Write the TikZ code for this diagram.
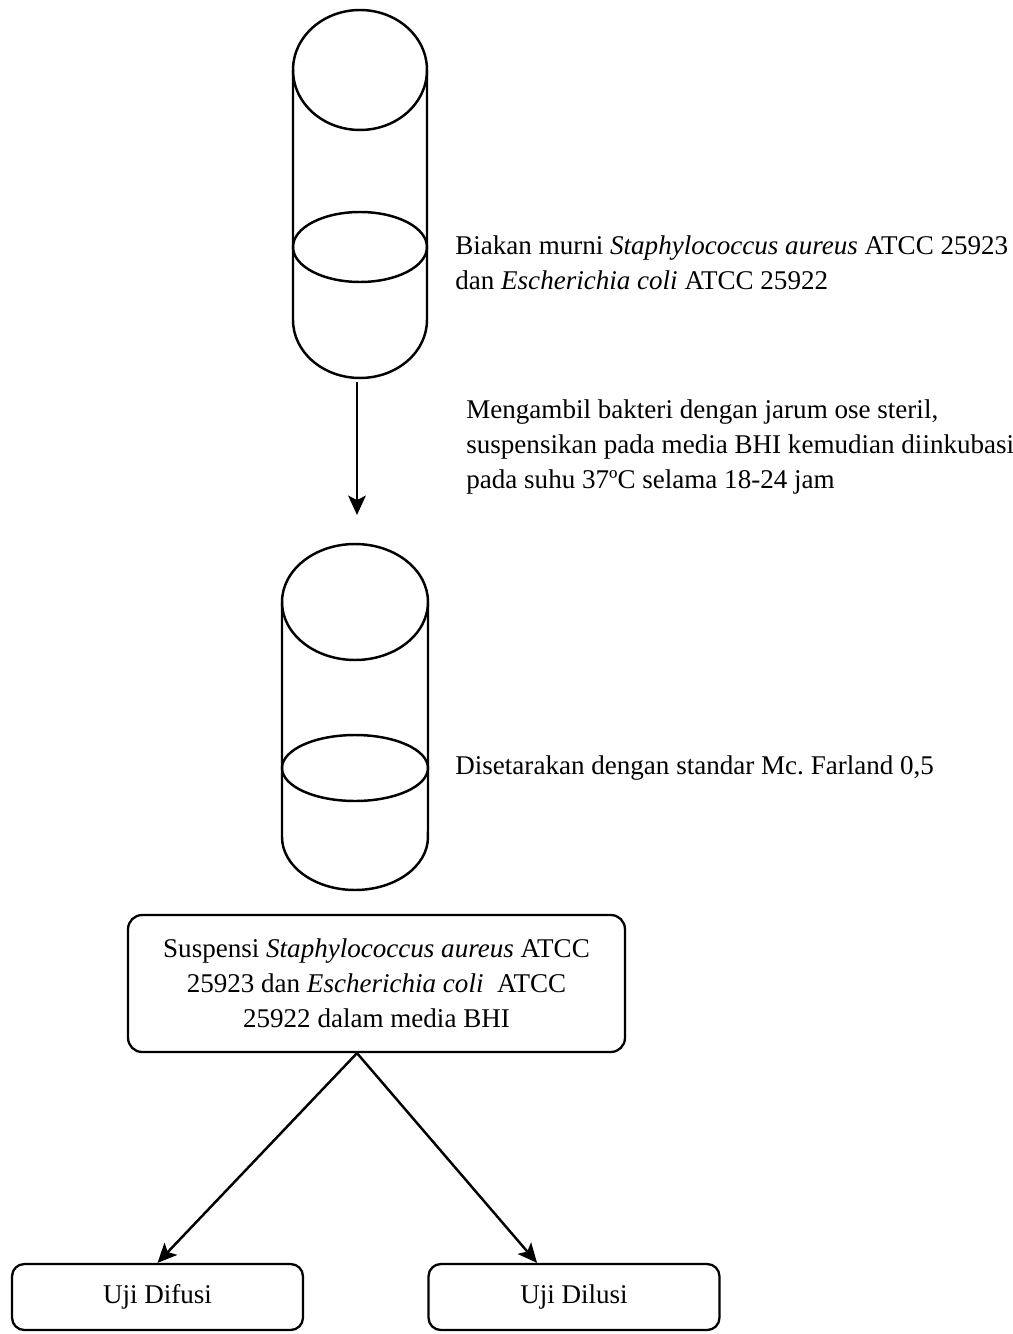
\documentclass[tikz,border=0pt]{standalone}
\usepackage{fontspec}
\setmainfont{Liberation Serif}
\usetikzlibrary{arrows.meta, positioning}
\newcommand{\notefont}{\fontsize{15.4}{19.8}\selectfont\frenchspacing}

\begin{document}
\begin{tikzpicture}[
      x=0.02cm, y=-0.02cm,
      tubeline/.style={line width=1.4pt},
      stepbox/.style={draw, line width=1.3pt, rounded corners=8pt, align=center,
                      font=\notefont, inner sep=0pt},
      resultbox/.style={stepbox, rounded corners=7pt, minimum width=5.82cm,
                        minimum height=1.32cm},
      arrow/.style={-{Stealth[length=11pt, width=10pt, inset=2.5pt]}, line width=1.4pt},
      note/.style={font=\notefont, align=left, anchor=west, inner sep=0pt}
    ]
    \useasboundingbox (0,0) rectangle (1013,1334);

    % first tube: pure culture
    \draw[tubeline] (360,70) ellipse [x radius=1.34cm, y radius=1.2cm];
    \draw[tubeline] (360,247) ellipse [x radius=1.34cm, y radius=0.7cm];
    \draw[tubeline] (293,70) -- (293,320)
      arc [start angle=180, end angle=360, x radius=1.34cm, y radius=1.16cm]
      -- (427,70);

    % second tube: suspension
    \draw[tubeline] (355,602) ellipse [x radius=1.46cm, y radius=1.16cm];
    \draw[tubeline] (355,768) ellipse [x radius=1.46cm, y radius=0.66cm];
    \draw[tubeline] (282,602) -- (282,837)
      arc [start angle=180, end angle=360, x radius=1.46cm, y radius=1.06cm]
      -- (428,602);

    \coordinate (take) at (357,382);
    \coordinate (suspend) at (357,515);
    \draw[arrow] (take) -- (suspend);

    % notes on right
    \node[note] (culture) at (455,263)
      {Biakan murni \textit{Staphylococcus aureus} ATCC 25923\\dan \textit{Escherichia coli} ATCC 25922};
    \node[note] (incubate) at (466,447)
      {Mengambil bakteri dengan jarum ose steril,\\suspensikan pada media BHI kemudian diinkubasi\\pada suhu 37ºC selama 18-24 jam};
    \node[note] (farland) at (455,768)
      {Disetarakan dengan standar Mc. Farland 0,5};

    \node[stepbox, minimum width=9.94cm, minimum height=2.74cm] (susp) at (376.5,983.5)
      {Suspensi \textit{Staphylococcus aureus} ATCC\\25923 dan \textit{Escherichia coli}~ ATCC\\25922 dalam media BHI};

    \node[resultbox] (difusi) at (157.5,1297) {Uji Difusi};
    \node[resultbox] (dilusi) at (574,1297) {Uji Dilusi};

    \draw[arrow] ([xshift=-0.39cm]susp.south) -- (difusi.north);
    \draw[arrow] ([xshift=-0.39cm]susp.south) -- ([xshift=-0.74cm]dilusi.north);
  \end{tikzpicture}
\end{document}
